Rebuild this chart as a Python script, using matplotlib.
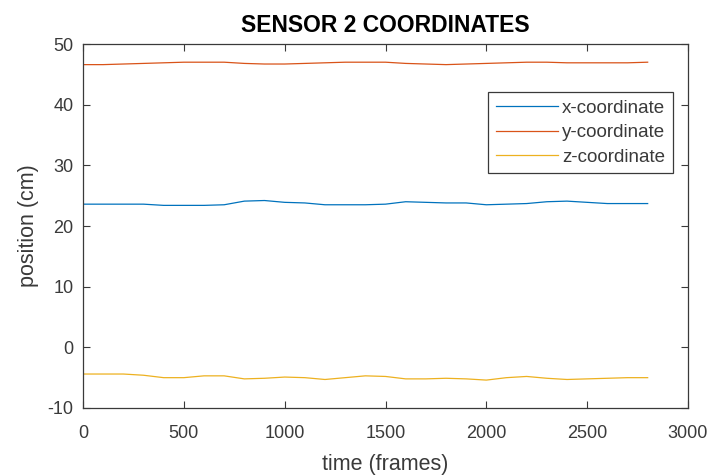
import numpy as np
import matplotlib
matplotlib.use("Agg")
import matplotlib.pyplot as plt

plt.rcParams['font.family'] = ['Liberation Sans', 'DejaVu Sans']
plt.rcParams['axes.unicode_minus'] = False

# values, one point every 100 frames
frames = [0, 100, 200, 300, 400, 500, 600, 700, 800, 900, 1000, 1100, 1200, 1300, 1400,
          1500, 1600, 1700, 1800, 1900, 2000, 2100, 2200, 2300, 2400, 2500, 2600, 2700, 2800]
x_coord = [23.6, 23.6, 23.6, 23.6, 23.4, 23.4, 23.4, 23.5, 24.1, 24.2, 23.9, 23.8, 23.5, 23.5, 23.5,
           23.6, 24.0, 23.9, 23.8, 23.8, 23.5, 23.6, 23.7, 24.0, 24.1, 23.9, 23.7, 23.7, 23.7]
y_coord = [46.6, 46.6, 46.7, 46.8, 46.9, 47.0, 47.0, 47.0, 46.8, 46.7, 46.7, 46.8, 46.9, 47.0, 47.0,
           47.0, 46.8, 46.7, 46.6, 46.7, 46.8, 46.9, 47.0, 47.0, 46.9, 46.9, 46.9, 46.9, 47.0]
z_coord = [-4.4, -4.4, -4.4, -4.6, -5.0, -5.0, -4.7, -4.7, -5.2, -5.1, -4.9, -5.0, -5.3, -5.0, -4.7,
           -4.8, -5.2, -5.2, -5.1, -5.2, -5.4, -5.0, -4.8, -5.1, -5.3, -5.2, -5.1, -5.0, -5.0]
labels = ["x-coordinate", "y-coordinate", "z-coordinate"]
colors = ["#0072BD", "#D95319", "#EDB120"]

fig = plt.figure(figsize=(7.16, 4.75), dpi=100)
ax = fig.add_axes([83/716, 1 - 408/475, 605/716, 364/475])

for vals, lab, c in zip([x_coord, y_coord, z_coord], labels, colors):
    ax.plot(frames, vals, color=c, lw=0.9, label=lab)

ax.set_xlim(0, 3000)
ax.set_ylim(-10, 50)
ax.set_xticks(np.arange(0, 3001, 500))
ax.set_yticks(np.arange(-10, 51, 10))

grey = "#3a3a3a"
for s in ax.spines.values():
    s.set_color(grey)
    s.set_linewidth(0.9)
ax.tick_params(direction="in", top=True, right=True, length=5, width=0.8,
               colors=grey, labelsize=13)
ax.tick_params(axis="x", pad=12)
ax.tick_params(axis="y", pad=7)

ax.set_xlabel("time (frames)", fontsize=15.5, color=grey, labelpad=9)
ax.set_ylabel("position (cm)", fontsize=15.5, color=grey, labelpad=6)
ax.set_title("SENSOR 2 COORDINATES", fontsize=16.5, fontweight="bold", pad=9)

leg = ax.legend(loc="upper right", bbox_to_anchor=(0.975, 0.868), borderaxespad=0,
                fontsize=13.5, handlelength=3.3, handletextpad=0.2, labelspacing=0.38,
                borderpad=0.42, fancybox=False, framealpha=1, edgecolor=grey)
leg.get_frame().set_linewidth(0.9)
for t in leg.get_texts():
    t.set_color(grey)

fig.savefig("out.png", dpi=100)
